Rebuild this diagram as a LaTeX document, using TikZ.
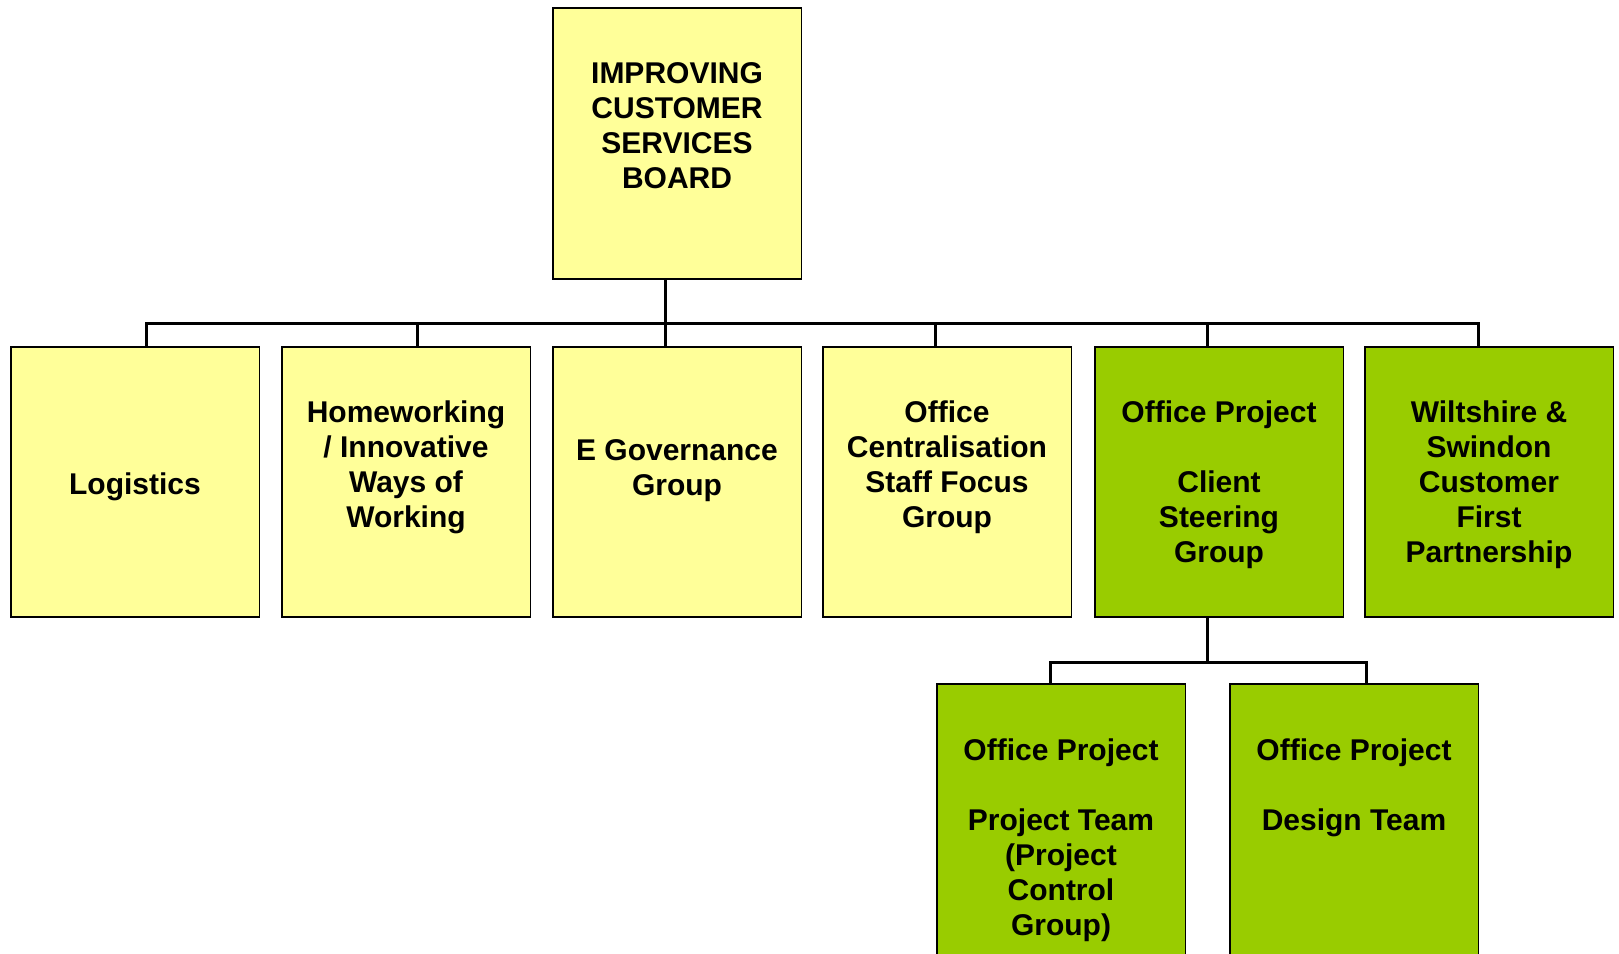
\documentclass[tikz,border=0pt]{standalone}
\usepackage{fontspec}
\setmainfont{Liberation Sans}
\definecolor{paleyellow}{HTML}{FFFF99}
\definecolor{leafgreen}{HTML}{99CC00}

\begin{document}
\begin{tikzpicture}[x=0.5pt,y=-0.5pt,
	box/.style={draw=black,line width=0.9pt,inner sep=0pt,minimum width=124.4pt,minimum height=135.2pt},
	ybox/.style={box,fill=paleyellow},
	gbox/.style={box,fill=leafgreen},
	lbl/.style={align=center,inner sep=0pt,font=\fontsize{15pt}{17.5pt}\selectfont\bfseries},
	conn/.style={line width=1.5pt}]
\useasboundingbox (0,0) rectangle (1619,954);
% boxes
\node[ybox] (board) at (677,143.5) {};
\node[ybox] (logi)  at (135,482) {};
\node[ybox] (home)  at (406,482) {};
\node[ybox] (egov)  at (677,482) {};
\node[ybox] (ocsf)  at (947,482) {};
\node[gbox] (opcsg) at (1219,482) {};
\node[gbox] (wilt)  at (1489,482) {};
\node[gbox] (optm)  at (1061,819.5) {};
\node[gbox] (opdt)  at (1354,819.5) {};
% texts
\node[lbl,anchor=north,yshift=-27.5pt] (board-t) at (board.north) {IMPROVING\\CUSTOMER\\SERVICES\\BOARD};
\node[lbl,yshift=-2.5pt] (logi-t) at (logi.center) {Logistics};
\node[lbl,anchor=north,yshift=-27pt] (home-t) at (home.north) {Homeworking\\/ Innovative\\Ways of\\Working};
\node[lbl,anchor=north,yshift=-46.5pt] (egov-t) at (egov.north) {E Governance\\Group};
\node[lbl,anchor=north,yshift=-27pt] (ocsf-t) at (ocsf.north) {Office\\Centralisation\\Staff Focus\\Group};
\node[lbl,anchor=north,yshift=-27pt] (opcsg-t) at (opcsg.north) {Office Project\\[17.5pt]Client\\Steering\\Group};
\node[lbl,anchor=north,yshift=-27pt] (wilt-t) at (wilt.north) {Wiltshire \&\\Swindon\\Customer\\First\\Partnership};
\node[lbl,anchor=north,yshift=-27.5pt] (optm-t) at (optm.north) {Office Project\\[17.5pt]Project Team\\(Project\\Control\\Group)};
\node[lbl,anchor=north,yshift=-27.5pt] (opdt-t) at (opdt.north) {Office Project\\[17.5pt]Design Team};
% connectors
\coordinate (bus) at (665,323);
\draw[conn] ([xshift=-6pt]board.south) -- (bus);
\draw[conn] (bus) -| ([xshift=5.5pt]logi.north);
\draw[conn] (bus) -| ([xshift=5.5pt]home.north);
\draw[conn] (bus) -| ([xshift=-6pt]egov.north);
\draw[conn] (bus) -| ([xshift=-6pt]ocsf.north);
\draw[conn] (bus) -| ([xshift=-6pt]opcsg.north);
\draw[conn] (bus) -| ([xshift=-5.5pt]wilt.north);
\coordinate (bus2) at (1207,662);
\draw[conn] ([xshift=-6pt]opcsg.south) -- (bus2);
\draw[conn] (bus2) -| ([xshift=-5.5pt]optm.north);
\draw[conn] (bus2) -| ([xshift=6pt]opdt.north);
\end{tikzpicture}
\end{document}
